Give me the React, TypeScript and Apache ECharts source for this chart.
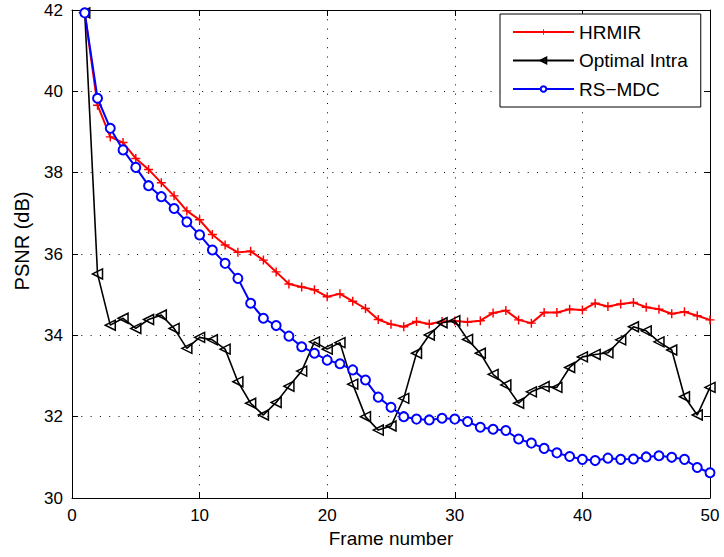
import React, { useEffect, useRef } from "react";
import * as echarts from "echarts";

const frames: number[] = Array.from({ length: 50 }, (_, i) => i + 1);

const hrmir: number[] = [
  41.93, 39.66, 38.88, 38.74, 38.35, 38.08, 37.75, 37.43, 37.06, 36.84,
  36.48, 36.22, 36.04, 36.07, 35.85, 35.56, 35.26, 35.19, 35.12, 34.95,
  35.02, 34.84, 34.66, 34.39, 34.27, 34.21, 34.34, 34.28, 34.34, 34.35,
  34.33, 34.36, 34.55, 34.61, 34.38, 34.3, 34.56, 34.56, 34.64, 34.62,
  34.79, 34.71, 34.77, 34.81, 34.69, 34.64, 34.53, 34.58, 34.48, 34.38,
];

const optimalIntra: number[] = [
  41.93, 35.51, 34.25, 34.42, 34.17, 34.39, 34.5, 34.17, 33.68, 33.95,
  33.89, 33.66, 32.86, 32.33, 32.04, 32.35, 32.75, 33.12, 33.84, 33.66,
  33.82, 32.8, 32.0, 31.67, 31.77, 32.45, 33.56, 34.01, 34.31, 34.36,
  33.9, 33.56, 33.04, 32.78, 32.33, 32.61, 32.74, 32.72, 33.21, 33.47,
  33.53, 33.57, 33.89, 34.21, 34.11, 33.84, 33.64, 32.49, 32.04, 32.72,
];

const rsMdc: number[] = [
  41.93, 39.83, 39.09, 38.56, 38.13, 37.68, 37.41, 37.12, 36.79, 36.47,
  36.1, 35.77, 35.4, 34.79, 34.42, 34.24, 33.98, 33.72, 33.56, 33.39,
  33.3, 33.15, 32.9, 32.48, 32.23, 32.0, 31.94, 31.92, 31.96, 31.94,
  31.88, 31.74, 31.69, 31.66, 31.45, 31.35, 31.22, 31.11, 31.02, 30.95,
  30.92, 30.98, 30.95, 30.96, 31.01, 31.04, 31.0, 30.95, 30.75, 30.62,
];

const seriesNames: string[] = ["HRMIR", "Optimal Intra", "RS\u2212MDC"];
const xTicks = { min: 0, max: 50, interval: 10 };
const yTicks = { min: 30, max: 42, interval: 2 };

const FONT = "'Liberation Sans', Arial, Helvetica, sans-serif";
const PLUS = "path://M0,4.2H10V5.8H0Z M4.2,0H5.8V10H4.2Z";
const TRI_LEFT = "path://M0,5L10,0L10,10Z";

const pairs = (ys: number[]) => frames.map((f, i) => [f, ys[i]]);

export default function App() {
  const ref = useRef<HTMLDivElement>(null);
  useEffect(() => {
    if (!ref.current) return;
    const chart = echarts.init(ref.current, null, { renderer: "svg" });
    const gridLine = {
      show: true,
      lineStyle: { color: "#000", width: 1, type: [1, 8.3] as any },
    };
    const baseAxisLine = { show: true, onZero: false, lineStyle: { color: "#000", width: 1 } };
    const tick = { show: true, inside: true, length: 6, lineStyle: { color: "#000", width: 1 } };
    chart.setOption({
      animation: false,
      backgroundColor: "#fff",
      textStyle: { fontFamily: FONT, color: "#000" },
      grid: { left: 72, top: 10, right: 14, bottom: 59, containLabel: false },
      legend: {
        orient: "vertical",
        left: 500,
        top: 14,
        padding: [8, 13, 8, 12],
        itemGap: 8.5,
        itemWidth: 61,
        itemHeight: 7,
        borderColor: "#000",
        borderWidth: 1,
        backgroundColor: "#fff",
        selectedMode: false,
        textStyle: { fontFamily: FONT, fontSize: 19, color: "#000", lineHeight: 20 },
        data: seriesNames,
      },
      xAxis: [
        {
          type: "value",
          position: "bottom",
          ...xTicks,
          name: "Frame number",
          nameLocation: "middle",
          nameGap: 31,
          nameTextStyle: { fontFamily: FONT, fontSize: 19, color: "#000" },
          axisLine: baseAxisLine,
          axisTick: tick,
          axisLabel: { fontFamily: FONT, fontSize: 17, color: "#000", margin: 9 },
          splitLine: gridLine,
        },
        {
          type: "value",
          position: "top",
          ...xTicks,
          axisLine: baseAxisLine,
          axisTick: tick,
          axisLabel: { show: false },
          splitLine: { show: false },
        },
      ],
      yAxis: [
        {
          type: "value",
          position: "left",
          ...yTicks,
          name: "PSNR (dB)",
          nameLocation: "middle",
          nameGap: 40,
          nameTextStyle: { fontFamily: FONT, fontSize: 20, color: "#000", padding: [0, 0, 0, 26] },
          axisLine: baseAxisLine,
          axisTick: tick,
          axisLabel: { fontFamily: FONT, fontSize: 17, color: "#000", margin: 9 },
          splitLine: gridLine,
        },
        {
          type: "value",
          position: "right",
          ...yTicks,
          axisLine: baseAxisLine,
          axisTick: tick,
          axisLabel: { show: false },
          splitLine: { show: false },
        },
      ],
      series: [
        {
          name: seriesNames[0],
          type: "line",
          data: pairs(hrmir),
          symbol: PLUS,
          symbolSize: 9,
          showAllSymbol: true,
          lineStyle: { color: "#ff0000", width: 2 },
          itemStyle: { color: "#ff0000", borderWidth: 0 },
          z: 3,
        },
        {
          name: seriesNames[1],
          type: "line",
          data: pairs(optimalIntra),
          symbol: TRI_LEFT,
          symbolSize: 10,
          showAllSymbol: true,
          lineStyle: { color: "#000", width: 1.6 },
          itemStyle: { color: "rgba(255,255,255,0)", borderColor: "#000", borderWidth: 1.5 },
          z: 4,
        },
        {
          name: seriesNames[2],
          type: "line",
          data: pairs(rsMdc),
          symbol: "emptyCircle",
          symbolSize: 9,
          showAllSymbol: true,
          lineStyle: { color: "#0000ff", width: 2 },
          itemStyle: { color: "#0000ff", borderColor: "#0000ff", borderWidth: 1.6 },
          z: 5,
        },
      ],
    });
    return () => chart.dispose();
  }, []);
  return (
    <div
      ref={ref}
      style={{ position: "fixed", left: 0, top: 0, width: 724, height: 557, background: "#fff" }}
    />
  );
}
